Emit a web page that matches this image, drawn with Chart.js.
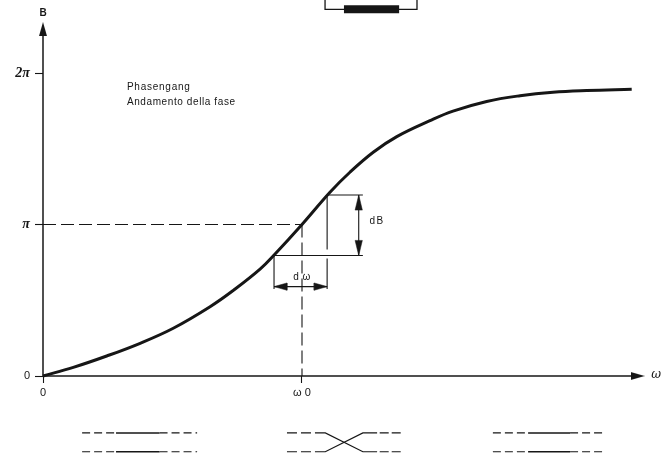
<!DOCTYPE html>
<html><head><meta charset="utf-8">
<style>html,body{margin:0;padding:0;background:#fff}canvas{display:block}</style>
<script src="https://cdn.jsdelivr.net/npm/chart.js@4/dist/chart.umd.min.js"></script>
</head><body><canvas id="c" width="666" height="454"></canvas>
<script>
// x in units of omega0, y in units of pi
const omega = [0,0.117,0.246,0.375,0.503,0.645,0.735,0.838,0.896,1,1.108,1.185,1.275,1.366,1.494,1.583,1.713,1.842,1.969,2.099,2.273];
const phase = [0,0.057,0.132,0.216,0.315,0.457,0.565,0.705,0.805,1,1.213,1.345,1.477,1.58,1.685,1.748,1.812,1.85,1.873,1.884,1.892];
const xTickValues = [0,1];
const xTickLabels = ['0','ω 0'];
const yTickValues = [0,1,2];
const yTickLabels = ['0','π','2π'];
const xRange = [0,2.40541];
const yRange = [0,2.48185];
const ink = '#161616';

const pts = (xs,ys)=>xs.map((x,i)=>({x,y:ys[i]}));
const curve = pts(omega,phase);
const line = (data,width=1.2,dash=[])=>({type:'scatter',showLine:true,data,borderColor:ink,backgroundColor:ink,borderWidth:width,borderDash:dash,pointRadius:0,tension:0,fill:false,clip:false});
const shape = data=>({...line(data,0.5),fill:'shape'});

// elongated arrowhead glyph, used as a point style for the two axis ends
const head = document.createElement('canvas');
head.width = 8; head.height = 14;
{const g = head.getContext('2d');g.fillStyle=ink;g.beginPath();g.moveTo(4,0);g.lineTo(8,14);g.lineTo(0,14);g.closePath();g.fill();}
const arrow = (x,y,rot)=>({type:'scatter',showLine:false,data:[{x,y}],pointStyle:head,pointRadius:6,pointRotation:rot,clip:false});

const datasets = [
  {...line(curve,3),tension:0.4},
  line(pts([0,0],[0,2.25]),1.5),
  line(pts([0,2.28],[0,0]),1.5),
  arrow(0,2.29,0),
  arrow(2.296,0,90),
  line(pts([0,1],[1,1]),1.1,[13,5]),
  line(pts([1,1],[1,0]),1.1,[13,5]),
  line(pts([0.892,1.235],[0.795,0.795]),1.1),
  line(pts([1.097,1.235],[1.195,1.195]),1.1),
  line(pts([0.892,0.892],[0.795,0.575]),1.1),
  line(pts([1.097,1.097],[1.195,0.835]),1.1),
  line(pts([1.097,1.097],[0.775,0.575]),1.1),
  line(pts([1.219,1.219],[1.195,0.795]),1.1),
  shape(pts([1.219,1.205,1.233,1.219],[1.195,1.095,1.095,1.195])),
  shape(pts([1.219,1.205,1.233,1.219],[0.795,0.895,0.895,0.795])),
  line(pts([0.892,1.097],[0.59,0.59]),1.1),
  shape(pts([0.892,0.942,0.942,0.892],[0.59,0.614,0.566,0.59])),
  shape(pts([1.097,1.047,1.047,1.097],[0.59,0.614,0.566,0.59])),
  // small series schematic above the plot
  line(pts([1.089,1.089,1.444,1.444],[2.482,2.42,2.42,2.482]),1.3),
  line(pts([1.162,1.375],[2.42,2.42]),8),
  // lower diagrams
  line(pts([0.151,0.282],[-0.376,-0.376]),1.2,[8,4]),
  line(pts([0.282,0.45],[-0.376,-0.376]),1.4),
  line(pts([0.45,0.595],[-0.376,-0.376]),1.2,[8,4]),
  line(pts([0.151,0.282],[-0.5,-0.5]),1.2,[8,4]),
  line(pts([0.282,0.45],[-0.5,-0.5]),1.4),
  line(pts([0.45,0.595],[-0.5,-0.5]),1.2,[8,4]),
  line(pts([0.942,1.05],[-0.376,-0.376]),1.2,[10,4]),
  line(pts([0.942,1.05],[-0.5,-0.5]),1.2,[10,4]),
  line(pts([1.05,1.09,1.235,1.29],[-0.376,-0.376,-0.5,-0.5]),1.2),
  line(pts([1.05,1.09,1.235,1.29],[-0.5,-0.5,-0.376,-0.376]),1.2),
  line(pts([1.3,1.39],[-0.376,-0.376]),1.2,[9,3]),
  line(pts([1.3,1.39],[-0.5,-0.5]),1.2,[9,3]),
  line(pts([1.737,1.873],[-0.376,-0.376]),1.2,[8,4]),
  line(pts([1.873,2.035],[-0.376,-0.376]),1.4),
  line(pts([2.035,2.174],[-0.376,-0.376]),1.2,[8,4]),
  line(pts([1.737,1.873],[-0.5,-0.5]),1.2,[8,4]),
  line(pts([1.873,2.035],[-0.5,-0.5]),1.4),
  line(pts([2.035,2.174],[-0.5,-0.5]),1.2,[8,4])
];

const notes = [
  {t:'B',x:0,y:2.396,f:'bold 10px "Liberation Sans"',a:'center'},
  {t:'Phasengang',x:0.324,y:1.908,f:'10px "Liberation Sans"',a:'left',s:'0.75px'},
  {t:'Andamento della fase',x:0.324,y:1.809,f:'10px "Liberation Sans"',a:'left',s:'0.6px'},
  {t:'dB',x:1.29,y:1.02,f:'10px "Liberation Sans"',a:'center',s:'1.5px'},
  {t:'d ω',x:1,y:0.655,f:'10px "Liberation Sans"',a:'center',s:'0.5px'},
  {t:'ω',x:2.367,y:0.008,f:'italic 12px "DejaVu Serif"',a:'center'}
];

const notePlugin = {id:'notes',afterDatasetsDraw(chart){
  const {ctx,scales:{x,y}} = chart;
  ctx.save();ctx.fillStyle=ink;ctx.textBaseline='middle';
  notes.forEach(n=>{ctx.font=n.f;ctx.textAlign=n.a;ctx.letterSpacing=n.s||'0px';ctx.fillText(n.t,x.getPixelForValue(n.x),y.getPixelForValue(n.y));});
  ctx.restore();
}};
const zeroPad = s=>{s.paddingTop=s.paddingBottom=s.paddingLeft=s.paddingRight=0;};

new Chart(document.getElementById('c'),{
  type:'scatter',
  data:{datasets},
  plugins:[notePlugin],
  options:{
    responsive:false,animation:false,
    layout:{padding:0,autoPadding:false},
    plugins:{legend:{display:false},tooltip:{enabled:false},title:{display:false}},
    scales:{
      x:{type:'linear',min:xRange[0],max:xRange[1],position:'bottom',
        afterBuildTicks:s=>{s.ticks=xTickValues.map(value=>({value}));},
        afterFit:s=>{s.height=78;zeroPad(s);},
        grid:{drawOnChartArea:false,drawTicks:true,tickLength:7,color:ink,tickWidth:1.1},
        border:{display:false},
        ticks:{autoSkip:false,maxRotation:0,padding:3,color:ink,font:{family:'"Liberation Sans"',size:11},callback:(v,i)=>xTickLabels[i]}},
      y:{type:'linear',min:yRange[0],max:yRange[1],position:'left',
        afterBuildTicks:s=>{s.ticks=yTickValues.map(value=>({value}));},
        afterFit:s=>{s.width=43;zeroPad(s);},
        grid:{drawOnChartArea:false,drawTicks:true,tickLength:8,color:ink,tickWidth:1.1},
        border:{display:false},
        ticks:{autoSkip:false,padding:5,color:ink,font:c=>c.index===0?{family:'"Liberation Sans"',size:11}:{family:'"Liberation Serif"',size:14,style:'italic',weight:'bold'},callback:(v,i)=>yTickLabels[i]}}
    }
  }
});
</script></body></html>
